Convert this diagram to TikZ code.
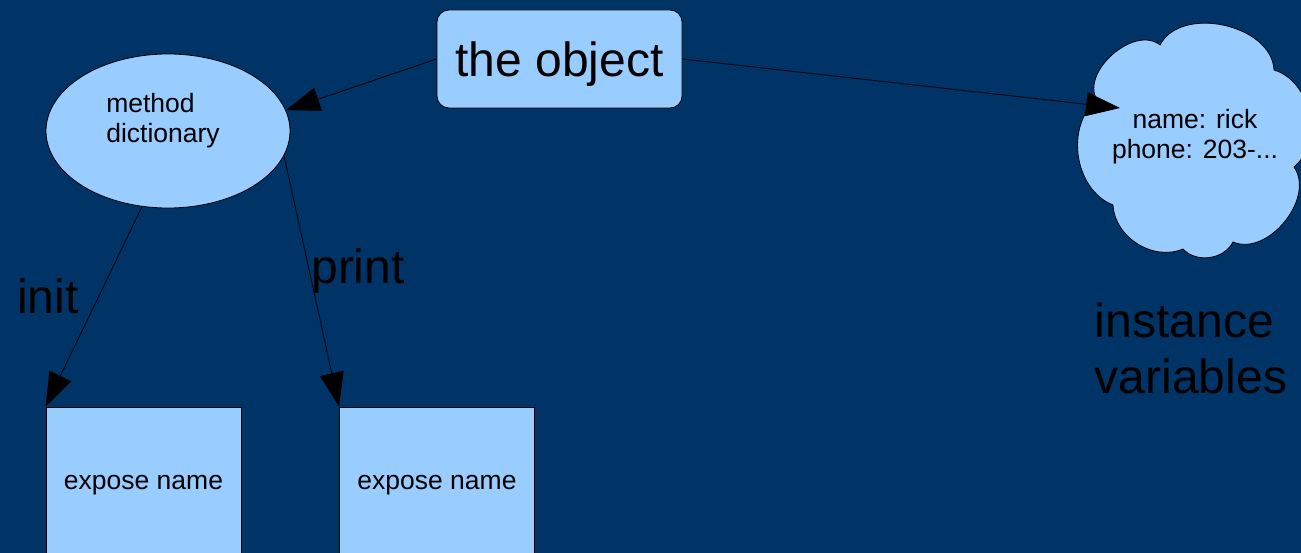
\documentclass[tikz,border=0pt]{standalone}
\usepackage{fontspec}
\setmainfont{Liberation Sans}
\usetikzlibrary{arrows.meta,shapes.geometric}
\definecolor{bgblue}{RGB}{0,51,102}
\definecolor{fillblue}{RGB}{153,204,255}
\begin{document}
\begin{tikzpicture}[x=1pt,y=-1pt,
  shape fill/.style={fill=fillblue,draw=black,line width=0.8pt},
  big/.style={font=\fontsize{48}{56}\selectfont},
  small/.style={font=\fontsize{26.5}{30}\selectfont},
  conn/.style={draw=black,line width=0.8pt,-{Triangle[length=34pt,width=24pt]}},
  codebox/.style={shape fill,rectangle,minimum width=195pt,minimum height=150pt,inner sep=0pt,text depth=0pt,small}]
\fill[bgblue] (0,0) rectangle (1301,553);
\useasboundingbox (0,0) rectangle (1301,553);
% the object
\node[shape fill,rectangle,rounded corners=12pt,minimum width=245pt,minimum height=98pt,inner sep=0pt,text depth=0pt,big] (obj) at (559.5,59) {the object};
% method dictionary
\node[shape fill,ellipse,minimum width=244pt,minimum height=154pt,inner sep=0pt] (dict) at (168,131) {};
\node[small,align=left,anchor=center] (dicttext) at (163,121) {method\\dictionary};
% boxes
\node[codebox] (box1) at (143.5,482) {expose name};
\node[codebox] (box2) at (437,482) {expose name};
% cloud
\path[shape fill] (1097,100) to[bend left=80] (1160,45) to[bend left=75] (1274,70)
  to[bend left=62] (1294,167) to[bend left=74] (1233,242) to[bend left=55] (1183,249)
  to[bend left=55] (1113,205) to[bend left=60] cycle;
\node[small,align=center] (vars) at (1195,137) {name: rick\\phone: 203-...};
\coordinate (cloudin) at (1120,108);
% labels
\node[big,anchor=center] (init) at (48,296) {init};
\node[big,anchor=center] (print) at (358,271) {print};
\node[big,align=left] (inst) at (1191,348) {instance\\variables};
% connectors
\draw[conn] (obj.west) -- (dict.10);
\draw[conn] (obj.east) -- (cloudin);
\draw[conn] (dict.-109) -- (box1.north west);
\draw[conn] (dict.-12) -- (box2.north west);
\end{tikzpicture}
\end{document}
